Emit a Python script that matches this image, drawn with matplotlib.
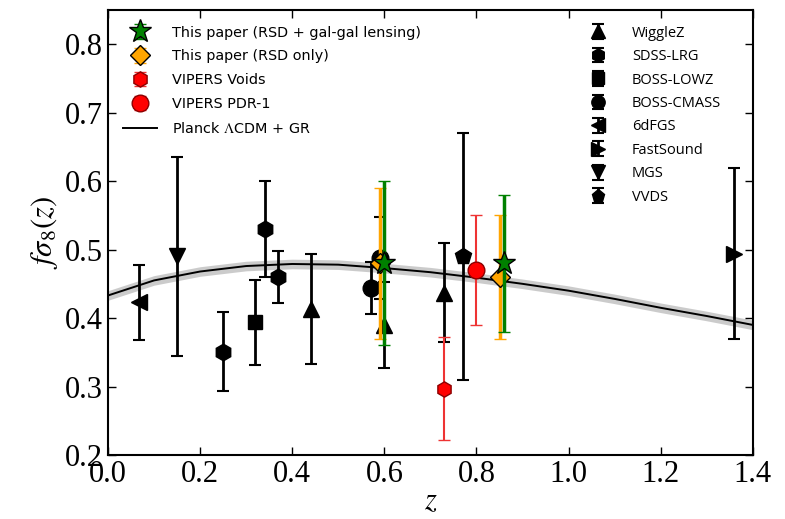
import numpy as np
import matplotlib
matplotlib.use("Agg")
import matplotlib.pyplot as plt

plt.rcParams['font.family'] = 'Liberation Serif'
plt.rcParams['mathtext.fontset'] = 'stix'

# literature measurements: z, f*sigma8, error
wigglez_z = [0.44, 0.60, 0.73]
wigglez_f = [0.413, 0.390, 0.437]
wigglez_err = [0.080, 0.063, 0.072]

sdss_lrg_z = [0.25, 0.34, 0.37]
sdss_lrg_f = [0.351, 0.530, 0.460]
sdss_lrg_err = [0.058, 0.070, 0.038]

boss_lowz_z = [0.32]
boss_lowz_f = [0.394]
boss_lowz_err = [0.062]

boss_cmass_z = [0.57, 0.59]
boss_cmass_f = [0.444, 0.488]
boss_cmass_err = [0.038, 0.060]

sixdf_z = [0.067]
sixdf_f = [0.423]
sixdf_err = [0.055]

fastsound_z = [1.36]
fastsound_f = [0.494]
fastsound_err = [0.125]

mgs_z = [0.15]
mgs_f = [0.49]
mgs_err = [0.145]

vvds_z = [0.77]
vvds_f = [0.49]
vvds_err = [0.18]

# this paper
lens_z = [0.60, 0.86]
lens_f = [0.48, 0.48]
lens_err = [0.12, 0.10]

rsd_z = [0.59, 0.85]
rsd_f = [0.48, 0.46]
rsd_err = [0.11, 0.09]

# VIPERS
voids_z = [0.73]
voids_f = [0.297]
voids_err = [0.075]

pdr1_z = [0.80]
pdr1_f = [0.47]
pdr1_err = [0.08]

# Planck LCDM + GR curve
planck_z = [0.0, 0.1, 0.2, 0.3, 0.4, 0.5, 0.6, 0.7, 0.8, 0.9, 1.0, 1.1, 1.2, 1.3, 1.4]
planck_f = [0.433, 0.455, 0.468, 0.476, 0.479, 0.478, 0.473, 0.467, 0.459, 0.450,
            0.440, 0.428, 0.415, 0.403, 0.390]
planck_err = 0.007

fig = plt.figure(figsize=(7.85, 5.19), dpi=100)
ax = fig.add_axes([0.1376, 0.1233, 0.8214, 0.8575])

pz = np.array(planck_z)
pf = np.array(planck_f)
ax.fill_between(pz, pf - planck_err, pf + planck_err, color='0.75', lw=0, alpha=0.8, zorder=1)
planck_line, = ax.plot(pz, pf, color='k', lw=1.4, zorder=2, label=r'Planck $\Lambda$CDM + GR')

ms = 12
ekw = dict(ls='none', ecolor='k', color='k', mec='k', elinewidth=2, capsize=4, capthick=1.5, ms=ms, zorder=3)
h_wig = ax.errorbar(wigglez_z, wigglez_f, yerr=wigglez_err, marker='^', label='WiggleZ', **ekw)
h_lrg = ax.errorbar(sdss_lrg_z, sdss_lrg_f, yerr=sdss_lrg_err, marker='h', label='SDSS-LRG', **ekw)
h_lowz = ax.errorbar(boss_lowz_z, boss_lowz_f, yerr=boss_lowz_err, marker='s', label='BOSS-LOWZ',
                     **dict(ekw, ms=ms - 2))
h_cmass = ax.errorbar(boss_cmass_z, boss_cmass_f, yerr=boss_cmass_err, marker='o', label='BOSS-CMASS', **ekw)
h_6df = ax.errorbar(sixdf_z, sixdf_f, yerr=sixdf_err, marker='<', label='6dFGS', **ekw)
h_fs = ax.errorbar(fastsound_z, fastsound_f, yerr=fastsound_err, marker='>', label='FastSound', **ekw)
h_mgs = ax.errorbar(mgs_z, mgs_f, yerr=mgs_err, marker='v', label='MGS', **ekw)
h_vvds = ax.errorbar(vvds_z, vvds_f, yerr=vvds_err, marker='p', label='VVDS', **ekw)

h_voids = ax.errorbar(voids_z, voids_f, yerr=voids_err, marker='h', ls='none', color='red', mec='#8b0000',
                      ecolor='#ee3333', elinewidth=1.5, capsize=4, ms=ms - 1, zorder=4, label='VIPERS Voids')
h_pdr1 = ax.errorbar(pdr1_z, pdr1_f, yerr=pdr1_err, marker='o', ls='none', color='red', mec='#8b0000',
                     ecolor='#ee3333', elinewidth=1.5, capsize=4, ms=ms, zorder=4, label='VIPERS PDR-1')
h_rsd = ax.errorbar(rsd_z, rsd_f, yerr=rsd_err, marker='D', ls='none', color='orange', mec='k',
                    ecolor='orange', elinewidth=2.5, capsize=4, ms=ms - 2, zorder=5,
                    label='This paper (RSD only)')
h_lens = ax.errorbar(lens_z, lens_f, yerr=lens_err, marker='*', ls='none', color='green', mec='k',
                     ecolor='green', elinewidth=2.5, capsize=4, ms=ms + 5, zorder=6,
                     label='This paper (RSD + gal-gal lensing)')

ax.set_xlim(0.0, 1.4)
ax.set_ylim(0.2, 0.85)
ax.set_xticks(np.arange(0.0, 1.41, 0.2))
ax.set_yticks(np.arange(0.2, 0.81, 0.1))
ax.tick_params(direction='in', top=True, right=True, labelsize=22, length=6, width=1)
for s in ax.spines.values():
    s.set_linewidth(1.5)
ax.set_xlabel(r'$z$', fontsize=22, labelpad=-1)
ax.set_ylabel(r'$f\sigma_8(z)$', fontsize=22)

left = ax.legend(handles=[h_lens, h_rsd, h_voids, h_pdr1, planck_line], loc='upper left',
                 frameon=False, prop={'family': 'DejaVu Sans', 'size': 10.4}, numpoints=1,
                 handlelength=2.4, handletextpad=1.0, labelspacing=0.68,
                 borderaxespad=0, bbox_to_anchor=(0.014, 0.978))
ax.add_artist(left)
ax.legend(handles=[h_wig, h_lrg, h_lowz, h_cmass, h_6df, h_fs, h_mgs, h_vvds], loc='upper left',
          frameon=False, prop={'family': 'Open Sans', 'size': 10.5}, numpoints=1,
          markerscale=0.8, handlelength=2.0, handletextpad=1.3, labelspacing=0.58,
          borderaxespad=0, bbox_to_anchor=(0.729, 0.978))

fig.savefig('out.png', dpi=100)
